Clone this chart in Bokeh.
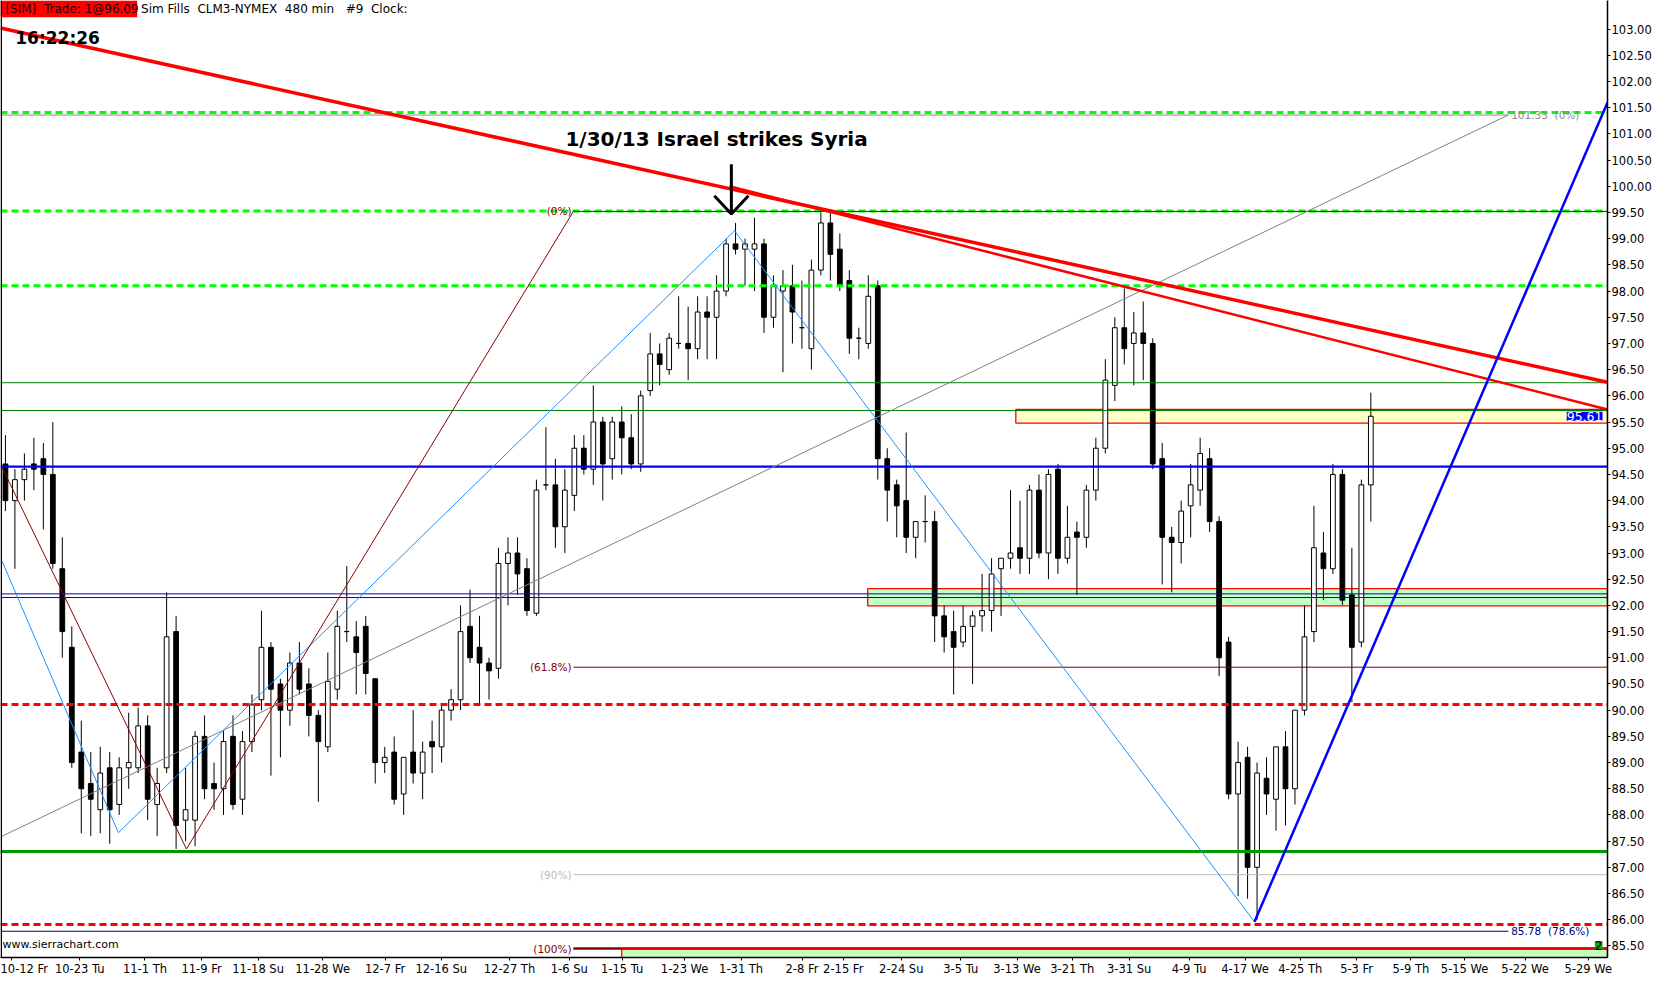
from bokeh.plotting import figure
from bokeh.models import (Range1d, LinearAxis, FixedTicker, Span, Label,
                          ColumnDataSource, NumeralTickFormatter)
from bokeh.core.properties import value
from bokeh.embed import file_html
from bokeh.resources import INLINE

# ---------------- data (CLM3, one candle per session day) ----------------
opens = [94.7, 94.0, 94.4, 94.7, 94.8, 94.5, 92.7, 91.2, 89.2, 88.6,
         88.1, 88.9, 88.2, 88.9, 88.9, 89.7, 88.2, 88.9, 91.5, 87.9,
         87.9, 89.5, 88.6, 88.5, 89.5, 88.3, 89.4, 90.2, 91.2, 90.5,
         90.0, 90.9, 90.5, 89.9, 89.3, 90.4, 91.5, 91.4, 91.6, 90.6,
         89.0, 89.2, 88.4, 89.2, 88.8, 89.4, 89.3, 90.0, 90.2, 91.6,
         91.2, 90.9, 90.8, 92.8, 93.0, 92.7, 91.85, 94.3, 94.3, 93.5,
         94.1, 95.0, 94.6, 95.5, 94.8, 95.5, 95.2, 94.7, 96.1, 96.8,
         96.5, 97.0, 97.0, 96.9, 97.6, 97.5, 98.0, 98.9, 98.8, 98.8,
         98.9, 97.5, 98.0, 98.1, 97.3, 96.9, 98.4, 99.3, 98.8, 98.2,
         97.1, 97.0, 98.1, 94.8, 94.3, 94.0, 93.3, 93.6, 93.6, 91.8,
         91.5, 91.3, 91.6, 91.8, 91.9, 92.7, 92.9, 93.1, 92.9, 94.2,
         93.0, 94.6, 92.9, 93.4, 93.3, 94.2, 95.0, 96.2, 97.3, 97.0,
         97.2, 97.0, 94.8, 93.3, 93.2, 93.9, 94.2, 94.8, 93.6, 91.3,
         88.4, 89.1, 87.0, 88.7, 88.3, 89.3, 88.5, 90.0, 91.5, 93.0,
         92.7, 94.5, 92.2, 91.3, 94.3]
highs = [95.25, 94.6, 94.9, 95.2, 95.1, 95.5, 93.3, 91.6, 89.8, 89.2,
         89.3, 89.2, 89.1, 89.95, 90.05, 89.9, 88.9, 92.25, 91.8, 88.9,
         89.6, 89.9, 89.0, 89.6, 89.9, 89.6, 90.3, 91.9, 91.3, 90.6,
         91.1, 91.3, 90.8, 90.0, 91.1, 91.9, 92.75, 91.7, 91.8, 90.6,
         89.3, 89.5, 89.1, 90.0, 89.4, 89.8, 90.1, 90.4, 92.0, 92.3,
         91.8, 91.0, 93.1, 93.3, 93.3, 92.9, 94.4, 95.4, 94.8, 94.6,
         95.25, 95.25, 96.2, 95.6, 95.6, 95.8, 95.65, 96.1, 97.2, 97.0,
         97.2, 97.9, 97.7, 97.9, 97.9, 98.3, 99.0, 99.3, 99.0, 99.4,
         99.0, 98.3, 98.4, 98.5, 98.2, 98.6, 99.5, 99.5, 99.1, 98.4,
         97.3, 98.3, 98.2, 95.0, 94.4, 95.3, 93.6, 94.1, 93.8, 92.0,
         91.9, 92.0, 91.9, 92.6, 92.9, 92.9, 94.2, 94.0, 94.3, 94.5,
         94.6, 94.7, 93.9, 93.6, 94.3, 95.2, 96.7, 97.5, 98.05, 97.6,
         97.8, 97.1, 95.1, 93.5, 94.0, 94.7, 95.2, 95.0, 93.7, 91.4,
         89.4, 89.3, 89.0, 89.1, 89.3, 89.6, 90.0, 92.0, 93.9, 93.4,
         94.7, 94.6, 93.1, 94.4, 96.06]
lows = [93.8, 92.7, 94.0, 94.2, 93.45, 92.7, 91.0, 88.9, 87.65, 87.6,
        87.65, 87.45, 88.0, 88.5, 88.8, 87.9, 87.6, 88.8, 87.35, 87.5,
        87.4, 88.3, 88.1, 88.0, 88.1, 88.0, 89.2, 90.0, 88.75, 89.1,
        89.7, 90.3, 89.5, 88.25, 89.2, 90.2, 91.3, 90.3, 90.3, 88.6,
        88.8, 88.2, 88.0, 88.6, 88.3, 88.8, 89.0, 89.8, 90.0, 90.9,
        90.1, 90.2, 90.6, 92.0, 92.2, 91.8, 91.8, 94.2, 93.1, 93.0,
        93.8, 94.5, 94.3, 94.0, 94.4, 94.5, 94.6, 94.55, 96.0, 96.2,
        96.4, 96.9, 96.3, 96.7, 96.7, 96.7, 97.9, 98.7, 98.1, 98.0,
        97.2, 97.3, 96.45, 97.0, 96.9, 96.5, 98.3, 98.2, 98.0, 96.8,
        96.7, 96.9, 94.4, 93.6, 93.3, 93.0, 92.9, 93.2, 91.3, 91.1,
        90.3, 91.2, 90.5, 91.5, 91.5, 91.8, 92.7, 92.6, 92.6, 92.9,
        92.5, 92.6, 92.8, 92.2, 93.1, 94.0, 94.9, 95.9, 96.6, 96.2,
        96.3, 94.6, 92.4, 92.25, 92.8, 93.3, 93.9, 93.4, 90.65, 88.3,
        86.45, 86.4, 86.0, 88.0, 87.7, 87.8, 88.2, 89.9, 91.3, 92.1,
        92.6, 92.0, 90.15, 91.2, 93.6]
closes = [94.0, 94.4, 94.6, 94.6, 94.5, 92.8, 91.5, 89.0, 88.5, 88.3,
          88.8, 88.1, 88.9, 89.0, 89.7, 88.3, 88.6, 91.4, 87.8, 88.1,
          89.5, 88.5, 88.5, 89.4, 88.2, 89.4, 90.1, 91.2, 90.4, 90.0,
          90.9, 90.4, 89.9, 89.4, 90.55, 91.6, 91.5, 91.1, 90.7, 89.0,
          89.1, 88.3, 89.1, 88.8, 89.2, 89.3, 90.0, 90.2, 91.5, 91.0,
          90.9, 90.75, 92.8, 93.0, 92.6, 91.9, 94.2, 94.3, 93.5, 94.2,
          95.0, 94.6, 95.5, 94.7, 95.5, 95.2, 94.7, 96.0, 96.8, 96.6,
          97.1, 97.0, 96.9, 97.6, 97.5, 98.0, 98.9, 98.8, 98.9, 98.9,
          97.5, 98.1, 98.1, 97.6, 97.3, 98.4, 99.3, 98.7, 98.1, 97.1,
          97.1, 97.9, 94.8, 94.2, 93.9, 93.3, 93.6, 93.6, 91.8, 91.4,
          91.2, 91.6, 91.8, 91.9, 92.6, 92.9, 93.0, 92.9, 94.2, 93.0,
          94.5, 92.9, 93.3, 93.3, 94.2, 95.0, 96.3, 97.3, 96.9, 97.2,
          97.0, 94.7, 93.3, 93.2, 93.8, 94.3, 94.9, 93.6, 91.0, 88.4,
          89.0, 87.0, 88.8, 88.4, 89.3, 88.5, 90.0, 91.4, 93.1, 92.7,
          94.5, 92.1, 91.2, 94.3, 95.61]
days = list(range(len(closes)))

# date axis (session index -> label)
date_ticks = [0.59, 7.84, 14.71, 20.68, 26.65, 33.46, 40.04, 45.96, 53.16, 59.46,
              65.04, 71.63, 77.59, 84.01, 88.36, 94.48, 100.75, 106.69, 112.52,
              118.52, 124.84, 130.73, 136.56, 142.5, 148.23, 153.89, 160.27, 166.94]
date_labels = ["10-12 Fr", "10-23 Tu", "11-1 Th", "11-9 Fr", "11-18 Su", "11-28 We",
               "12-7 Fr", "12-16 Su", "12-27 Th", "1-6 Su", "1-15 Tu", "1-23 We",
               "1-31 Th", "2-8 Fr", "2-15 Fr", "2-24 Su", "3-5 Tu", "3-13 We",
               "3-21 Th", "3-31 Su", "4-9 Tu", "4-17 We", "4-25 Th", "5-3 Fr",
               "5-9 Th", "5-15 We", "5-22 We", "5-29 We"]
price_ticks = [85.5, 86.0, 86.5, 87.0, 87.5, 88.0, 88.5, 89.0, 89.5, 90.0, 90.5,
               91.0, 91.5, 92.0, 92.5, 93.0, 93.5, 94.0, 94.5, 95.0, 95.5, 96.0,
               96.5, 97.0, 97.5, 98.0, 98.5, 99.0, 99.5, 100.0, 100.5, 101.0,
               101.5, 102.0, 102.5, 103.0]

x_lo, x_hi = -0.52, 168.96
y_lo, y_hi = 85.279, 103.546

# horizontal levels
lime_dashed = [101.41, 99.53, 98.10]
red_dashed = [90.11, 85.91]
green_thin = [96.25, 95.72]
green_thick = [87.30]
blue_thick = [94.65]
blue_thin = [92.22, 92.15]

# fibonacci retracement 99.52 -> 85.45
fib_start = 59.9
fib_levels = [99.52, 90.82, 86.86, 85.45]
fib_texts = ["(0%)", "(61.8%)", "(90%)", "(100%)"]
fib_colors = ["#800000", "#800000", "#BDBDBD", "#800000"]

# second fib set (drawn from the left)
fib2_end = 158.5
fib2_levels = [101.36, 85.78]
fib2_texts = ["101.33\u00a0\u00a0(0%)", "85.78\u00a0\u00a0(78.6%)"]
fib2_colors = ["#8C8C8C", "#000080"]

# zones
zone_left = [106.56, 90.94, 65.0]
zone_bottom = [95.48, 91.99, 85.20]
zone_top = [95.74, 92.32, 85.45]
zone_fill = ["#FFFFC8", "#C4FFC4", "#C4FFC4"]

# drawn trend lines
lb_x = [-0.34, 11.91, 76.9, 131.73]
lb_y = [92.84, 87.66, 99.15, 85.96]
dr_x = [-0.34, 19.09, 59.9]
dr_y = [94.63, 87.35, 99.52]
gray_x = [-0.52, 158.5]
gray_y = [87.58, 101.36]
red_a_x = [-0.52, 168.96]
red_a_y = [103.02, 96.26]
red_b_x = [76.35, 168.96]
red_b_y = [100.0, 95.74]
blue_c_x = [131.73, 168.96]
blue_c_y = [85.96, 101.6]

# news annotation
note_x = [75.0]
note_y = [100.91]
note_text = ["1/30/13 Israel strikes Syria"]
arrow_x = 76.56
arrow_top = 100.42
arrow_tip = 99.47

last_price = 95.61

FONT = "DejaVu Sans"
FRAME_W, FRAME_H = 1607, 957
NB = "\u00a0"

p = figure(frame_width=FRAME_W, frame_height=FRAME_H, output_backend="svg", toolbar_location=None,
           x_range=Range1d(x_lo, x_hi), y_range=Range1d(y_lo, y_hi),
           x_axis_location=None, y_axis_location=None,
           min_border_left=0, min_border_top=0, min_border_right=0, min_border_bottom=0,
           background_fill_color="white", border_fill_color="white")
p.outline_line_color = None
p.xgrid.visible = False
p.ygrid.visible = False

# axes
yax = LinearAxis(ticker=FixedTicker(ticks=price_ticks),
                 formatter=NumeralTickFormatter(format="0.00"))
xax = LinearAxis(ticker=FixedTicker(ticks=date_ticks),
                 major_label_overrides={t: l for t, l in zip(date_ticks, date_labels)})
for ax in (yax, xax):
    ax.axis_line_color = "black"
    ax.axis_line_width = 1.5
    ax.major_tick_line_color = "black"
    ax.major_tick_out = 3
    ax.major_tick_in = 0
    ax.minor_tick_line_color = None
    ax.major_label_text_font = FONT
    ax.major_label_text_font_size = "11.5px"
    ax.major_label_text_color = "black"
    ax.major_label_standoff = 1
p.add_layout(yax, "right")
p.add_layout(xax, "below")

p.add_layout(Span(location=x_lo + 0.08, dimension="height", line_color="black", line_width=1.5))

# zones
p.quad(left=zone_left, right=[x_hi] * 3, bottom=zone_bottom, top=zone_top,
       fill_color=zone_fill, line_color="red", line_width=1.3)

# candles
src = ColumnDataSource(dict(x=days, o=opens, h=highs, l=lows, c=closes,
                            top=[max(a, b) for a, b in zip(opens, closes)],
                            bot=[min(a, b) for a, b in zip(opens, closes)],
                            fill=["white" if c >= o else "black" for o, c in zip(opens, closes)]))
p.segment(x0="x", y0="l", x1="x", y1="h", source=src, line_color="black", line_width=1)
p.vbar(x="x", width=0.5, top="top", bottom="bot", source=src,
       fill_color="fill", line_color="black", line_width=1)

# horizontal levels
for y in lime_dashed:
    p.line([x_lo, x_hi], [y, y], line_color="#00FF00", line_width=3, line_dash="7 4")
for y in red_dashed:
    p.line([x_lo, x_hi], [y, y], line_color="red", line_width=3, line_dash="7 4")
for y in green_thin:
    p.line([x_lo, x_hi], [y, y], line_color="#008000", line_width=1)
for y in green_thick:
    p.line([x_lo, x_hi], [y, y], line_color="#009900", line_width=3)
for y in blue_thick:
    p.line([x_lo, x_hi], [y, y], line_color="#0000FF", line_width=2.2)
for y in blue_thin:
    p.line([x_lo, x_hi], [y, y], line_color="#0000CC", line_width=1)

# fib lines and labels
for y, t, col in zip(fib_levels, fib_texts, fib_colors):
    lw = 2.5 if t == "(100%)" else 1
    p.line([fib_start, x_hi], [y, y], line_color=col, line_width=lw)
    p.text(x=[fib_start - 0.2], y=[y], text=[t], text_color=col, text_align="right",
           text_baseline="middle", text_font=value(FONT), text_font_size="10.5px")
p.line([zone_left[2], x_hi], [zone_top[2], zone_top[2]], line_color="red", line_width=2)
for y, t, col in zip(fib2_levels, fib2_texts, fib2_colors):
    p.line([x_lo, fib2_end], [y, y], line_color=col, line_width=1)
    p.text(x=[fib2_end + 0.3], y=[y], text=[t], text_color=col, text_align="left",
           text_baseline="middle", text_font=value(FONT), text_font_size="10.5px")

# trend lines
p.line(gray_x, gray_y, line_color="#808080", line_width=1)
p.line(lb_x, lb_y, line_color="#1E90FF", line_width=1)
p.line(dr_x, dr_y, line_color="#8B0000", line_width=1)
p.line(red_a_x, red_a_y, line_color="red", line_width=3.5)
p.line(red_b_x, red_b_y, line_color="red", line_width=2.5)
p.line(blue_c_x, blue_c_y, line_color="#0000FF", line_width=2.5)

# annotation
p.text(x=note_x, y=note_y, text=note_text, text_font=value(FONT), text_font_style="bold",
       text_font_size="20px", text_align="center", text_baseline="middle", text_color="black")
p.line([arrow_x, arrow_x], [arrow_top, arrow_tip], line_color="black", line_width=3)
p.line([arrow_x - 1.8, arrow_x, arrow_x + 1.8], [arrow_tip + 0.35, arrow_tip, arrow_tip + 0.35],
       line_color="black", line_width=3)

# header
p.quad(left=[x_lo], right=[13.9], top=[y_hi], bottom=[103.226], fill_color="red", line_color=None)
p.text(x=[0.0], y=[103.386], text=["[SIM]" + NB + NB + "Trade: 1@96.09"], text_font=value(FONT),
       text_font_size="12px", text_baseline="middle", text_color="#200000")
p.text(x=[14.3], y=[103.386],
       text=["Sim Fills" + NB + NB + "CLM3-NYMEX" + NB + NB + "480 min" + NB + NB + NB + "#9" + NB + NB + "Clock:"],
       text_font=value(FONT), text_font_size="12px", text_baseline="middle", text_color="black")
p.text(x=[1.04], y=[102.83], text=["16:22:26"], text_font=value(FONT), text_font_style="bold",
       text_font_size="17px", text_baseline="middle", text_color="black")
p.text(x=[-0.3], y=[85.52], text=["www.sierrachart.com"], text_font=value(FONT),
       text_font_size="11px", text_baseline="middle", text_color="black")

# last price marker, at the price-axis edge of the plot
last_sy = (last_price - y_lo) / (y_hi - y_lo) * FRAME_H
p.add_layout(Label(x=FRAME_W - 5, y=last_sy, x_units="screen", y_units="screen",
                   text="%.2f" % last_price, text_color="white",
                   background_fill_color="#0000FF", text_font=FONT, text_font_size="12.5px",
                   text_baseline="middle", text_align="right"))
p.add_layout(Label(x=FRAME_W - 5, y=12, x_units="screen", y_units="screen", text="2",
                   text_color="black", background_fill_color="#00B000", text_font=FONT,
                   text_font_size="12px", text_baseline="middle", text_align="right"))

open("out.html", "w").write(file_html(p, INLINE))
